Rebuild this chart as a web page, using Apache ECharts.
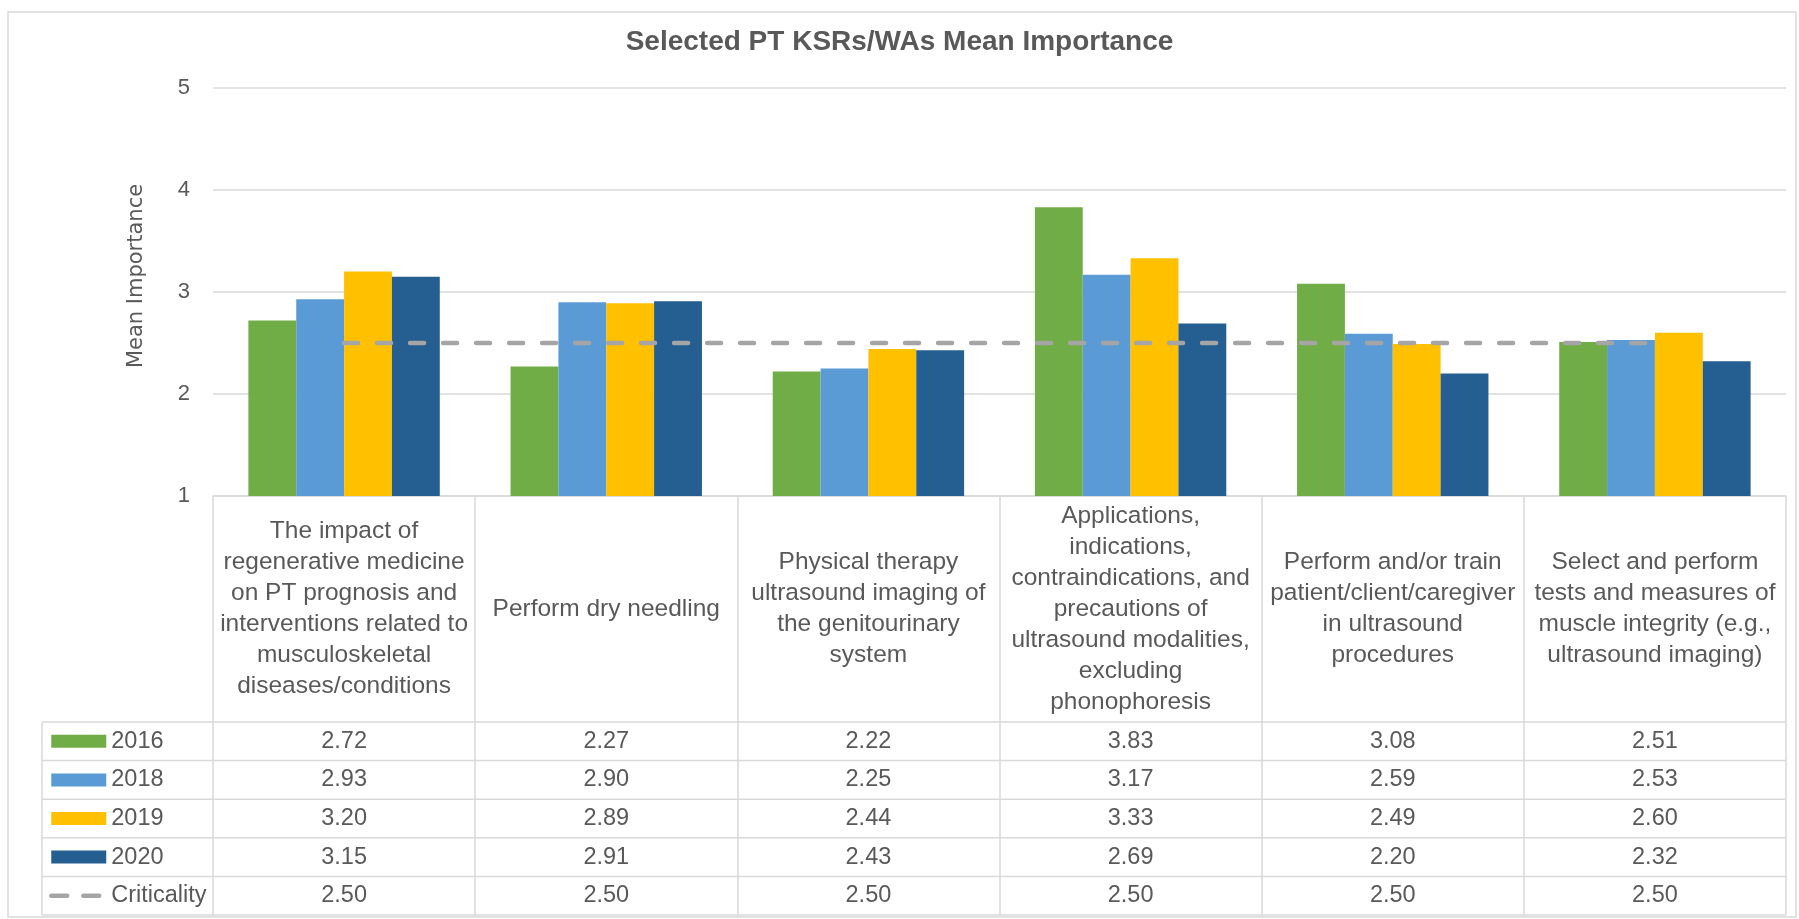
<!DOCTYPE html>
<html>
<head>
<meta charset="utf-8">
<title>Selected PT KSRs/WAs Mean Importance</title>
<script src="https://cdn.jsdelivr.net/npm/echarts/dist/echarts.min.js"></script>
<style>
  html, body { margin: 0; padding: 0; background: #fff; }
  #chart { width: 1799px; height: 919px; }
</style>
</head>
<body>
<div id="chart"></div>
<script>
const categories = [
  'The impact of\nregenerative medicine\non PT prognosis and\ninterventions related to\nmusculoskeletal\ndiseases/conditions',
  'Perform dry needling',
  'Physical therapy\nultrasound imaging of\nthe genitourinary\nsystem',
  'Applications,\nindications,\ncontraindications, and\nprecautions of\nultrasound modalities,\nexcluding\nphonophoresis',
  'Perform and/or train\npatient/client/caregiver\nin ultrasound\nprocedures',
  'Select and perform\ntests and measures of\nmuscle integrity (e.g.,\nultrasound imaging)'
]
const seriesNames = ['2016', '2018', '2019', '2020', 'Criticality']
const v2016 = [2.72, 2.27, 2.22, 3.83, 3.08, 2.51]
const v2018 = [2.93, 2.90, 2.25, 3.17, 2.59, 2.53]
const v2019 = [3.20, 2.89, 2.44, 3.33, 2.49, 2.60]
const v2020 = [3.15, 2.91, 2.43, 2.69, 2.20, 2.32]
const criticality = [2.50, 2.50, 2.50, 2.50, 2.50, 2.50]
const yMin = 1
const yMax = 5
const yStep = 1

const colors = ['#70AD47', '#5B9BD5', '#FFC000', '#255E91', '#A5A5A5']
const textColor = '#595959'
const lineColor = '#D9D9D9'
const font = "'Liberation Sans', Arial, sans-serif"

// layout (px)
const gridLeft = 213
const gridRight = 1786
const gridTop = 88
const axisY = 496 // y of value 1
const tableTop = 722
const rowHeight = 38.6
const legendLeft = 42

const rowValues = [v2016, v2018, v2019, v2020, criticality]

const chart = echarts.init(document.getElementById('chart'))

const barSeries = [v2016, v2018, v2019, v2020].map((d, i) => ({
  name: seriesNames[i],
  type: 'bar',
  data: d,
  barGap: '0%',
  barCategoryGap: '27%',
  itemStyle: { color: colors[i] },
  clip: true
}))

// one hidden-line category axis per table row, used only for the value text
const rowAxes = rowValues.map((d, i) => ({
  type: 'category',
  gridIndex: 0,
  position: 'bottom',
  offset: tableTop + (i + 0.5) * rowHeight - axisY,
  data: d.map(v => v.toFixed(2)),
  axisLine: { show: false },
  axisTick: { show: false },
  splitLine: { show: false },
  axisLabel: {
    interval: 0,
    margin: 0,
    verticalAlign: 'middle',
    fontFamily: font,
    fontSize: 23.5,
    color: textColor
  }
}))

const graphic = [{
  type: 'rect',
  silent: true,
  shape: { x: 8, y: 12, width: 1788, height: 905 },
  style: { fill: 'none', stroke: lineColor, lineWidth: 1.5 }
}]
for (let i = 0; i <= rowValues.length; i++) {
  const y = tableTop + i * rowHeight
  graphic.push({
    type: 'line',
    silent: true,
    shape: { x1: legendLeft, y1: y, x2: gridRight, y2: y },
    style: { stroke: lineColor, lineWidth: 1.5 }
  })
}
graphic.push({
  type: 'line',
  silent: true,
  shape: { x1: legendLeft, y1: tableTop, x2: legendLeft, y2: tableTop + rowValues.length * rowHeight },
  style: { stroke: lineColor, lineWidth: 1.5 }
})

chart.setOption({
  animation: false,
  color: colors,
  textStyle: { fontFamily: font, color: textColor },
  title: {
    text: 'Selected PT KSRs/WAs Mean Importance',
    left: 'center',
    top: 23,
    textStyle: { fontFamily: font, fontSize: 28, fontWeight: 'bold', color: textColor }
  },
  legend: {
    orient: 'vertical',
    left: 49,
    top: tableTop + rowHeight / 2 - 12,
    padding: 0,
    itemWidth: 55,
    itemHeight: 13,
    itemGap: rowHeight - 24,
    itemStyle: { borderWidth: 0 },
    textStyle: { fontFamily: font, fontSize: 23.5, lineHeight: 24, color: textColor },
    data: [
      { name: '2016', icon: 'rect' },
      { name: '2018', icon: 'rect' },
      { name: '2019', icon: 'rect' },
      { name: '2020', icon: 'rect' },
      {
        name: 'Criticality',
        itemStyle: { opacity: 0 },
        lineStyle: { color: colors[4], width: 4.5, type: [16, 16], cap: 'round' }
      }
    ]
  },
  grid: {
    left: gridLeft,
    right: 1799 - gridRight,
    top: gridTop,
    bottom: 919 - axisY,
    containLabel: false
  },
  xAxis: [{
    type: 'category',
    data: categories,
    axisLine: { show: true, lineStyle: { color: lineColor, width: 1.5 } },
    axisTick: {
      show: true,
      interval: 0,
      length: tableTop + rowValues.length * rowHeight - axisY,
      lineStyle: { color: lineColor, width: 1.5 }
    },
    axisLabel: {
      interval: 0,
      margin: (tableTop - axisY) / 2,
      verticalAlign: 'middle',
      align: 'center',
      fontFamily: font,
      fontSize: 24.5,
      lineHeight: 31,
      color: textColor
    }
  }].concat(rowAxes),
  yAxis: {
    type: 'value',
    min: yMin,
    max: yMax,
    interval: yStep,
    name: 'Mean Importance',
    nameLocation: 'middle',
    nameGap: 66,
    nameTextStyle: {
      fontFamily: "'DejaVu Sans', sans-serif",
      fontSize: 21,
      color: textColor,
      padding: [0, 0, 0, 32]
    },
    axisLine: { show: false },
    axisTick: { show: false },
    axisLabel: { fontFamily: font, fontSize: 22, color: textColor, margin: 23 },
    splitLine: { lineStyle: { color: lineColor, width: 1.5 } }
  },
  series: barSeries.concat([{
    name: 'Criticality',
    type: 'line',
    data: criticality,
    symbol: 'none',
    z: 5,
    lineStyle: { color: colors[4], width: 4.5, type: [14, 19], cap: 'round' },
    itemStyle: { color: colors[4] }
  }]),
  graphic: graphic
})
</script>
</body>
</html>
